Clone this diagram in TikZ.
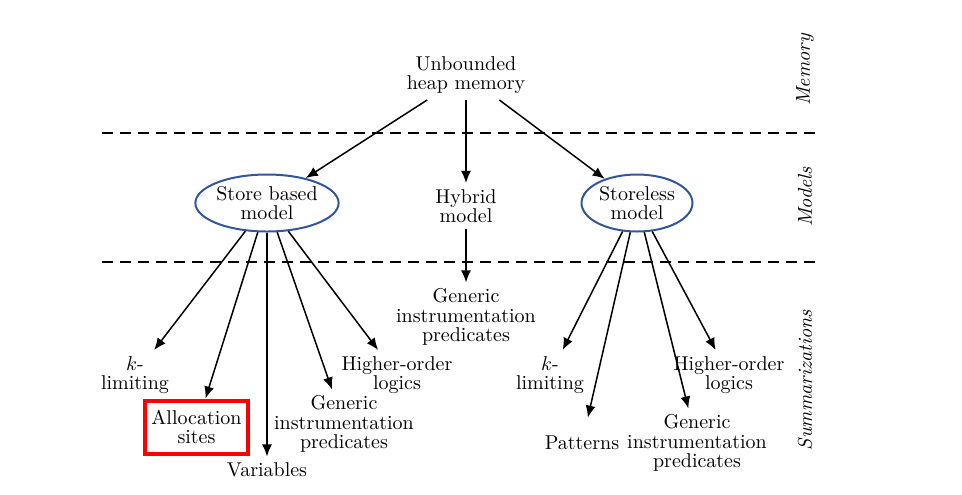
\documentclass[tikz,border=0pt]{standalone}
\usetikzlibrary{shapes.geometric,arrows.meta}
\definecolor{ellblue}{RGB}{50,85,160}
\begin{document}
\begin{tikzpicture}[x=0.5pt,y=-0.5pt,
  lbl/.style={align=center,font=\fontsize{10}{9.6}\selectfont,inner sep=3pt},
  ell/.style={ellipse,draw=ellblue,line width=1pt,inner sep=0pt,align=center,font=\fontsize{10}{9.6}\selectfont},
  arr/.style={-{Latex[length=6pt,width=5pt]},line width=0.75pt},
  sepline/.style={dash pattern=on 5.5pt off 3.5pt, line width=1.1pt},
  side/.style={rotate=90,font=\itshape}]
\useasboundingbox (0,0) rectangle (962,494);
% separators
\draw[sepline] (102,133) -- (815,133);
\draw[sepline] (102,262) -- (815,262);
% nodes
\node[lbl] (heap) at (466,75) {Unbounded\\heap memory};
\node[ell, minimum width=69.5pt, minimum height=28.5pt] (store) at (267,203) {Store based\\model};
\node[lbl] (hybrid) at (466,206) {Hybrid\\model};
\node[ell, minimum width=55.5pt, minimum height=28.5pt] (storeless) at (637,203) {Storeless\\model};
\node[lbl] (genm) at (466,317) {Generic\\instrumentation\\predicates};
\node[lbl] (sk) at (135,375) {$k$-\\limiting};
\node[lbl, draw=red, line width=2pt, minimum width=51.5pt, minimum height=26.5pt] (alloc) at (196.5,427) {Allocation\\sites};
\node[lbl] (var) at (267,470) {Variables};
\node[lbl] (sgen) at (344,424) {Generic\\instrumentation\\predicates};
\node[lbl] (shigh) at (397,375) {Higher-order\\logics};
\node[lbl] (lk) at (550,375) {$k$-\\limiting};
\node[lbl, minimum height=25pt] (pat) at (582,443) {Patterns};
\node[lbl] (lgen) at (697,443) {Generic\\instrumentation\\predicates};
\node[lbl] (lhigh) at (729,375) {Higher-order\\logics};
% side labels
\node[side] (mem) at (805,70) {Memory};
\node[side] (mod) at (805,197) {Models};
\node[side] (sum) at (805,380) {Summarizations};
% arrows
\draw[arr] (heap) -- (store);
\draw[arr] (heap) -- (hybrid);
\draw[arr] (heap) -- (storeless);
\draw[arr] (hybrid) -- (genm);
\draw[arr] (store) -- (sk);
\draw[arr] (store) -- (alloc);
\draw[arr] (store) -- (var);
\draw[arr] (store) -- (sgen);
\draw[arr] (store) -- (shigh);
\draw[arr] (storeless) -- (lk);
\draw[arr] (storeless) -- (pat);
\draw[arr] (storeless) -- (lgen);
\draw[arr] (storeless) -- (lhigh);
\end{tikzpicture}
\end{document}
